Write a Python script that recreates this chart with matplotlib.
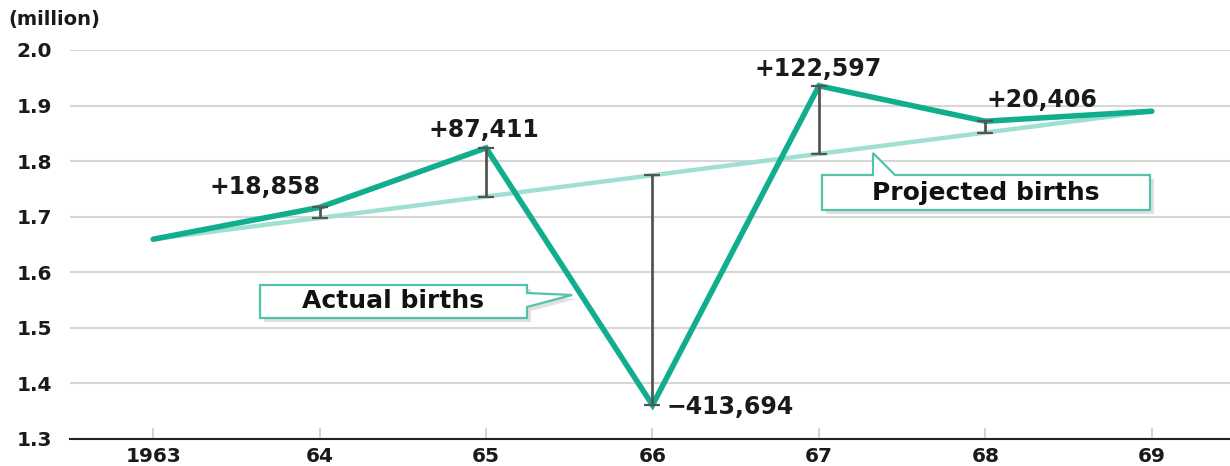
import matplotlib
matplotlib.use("Agg")
import matplotlib.pyplot as plt
from matplotlib.patches import Polygon
import numpy as np

years = [1963, 1964, 1965, 1966, 1967, 1968, 1969]
tick_labels = ["1963", "64", "65", "66", "67", "68", "69"]
actual = [1.6595, 1.7168, 1.8237, 1.3610, 1.9356, 1.8718, 1.8898]
projected = [1.6595, 1.6979, 1.7363, 1.7747, 1.8131, 1.8514, 1.8898]
diff_labels = ["", "+18,858", "+87,411", "\u2212413,694", "+122,597", "+20,406", ""]
label_offsets = [None, (-55, 20), (-2, 18), (14, -2), (-1, 17), (57, 21), None]

W, H = 1230, 466
plt.rcParams['font.family'] = ['DejaVu Sans']
fig = plt.figure(figsize=(W / 100, H / 100), dpi=100)
ax = fig.add_axes([70 / W, 1 - 439 / H, 1 - 70 / W, (439 - 50) / H])

ACT = "#10ae8c"
PROJ = "#9fe0d2"
BAR = "#555555"
GRID = "#d6d6d6"
TXT = "#1a1a1a"

ax.set_xlim(1962.5, 1969.47)
ax.set_ylim(1.3, 2.0)
yt = np.round(np.arange(1.3, 2.01, 0.1), 1)
ax.set_yticks(yt)
ax.set_yticklabels([f"{v:.1f}" for v in yt], fontsize=14.5, fontweight='bold', color=TXT)
ax.set_xticks(years)
ax.set_xticklabels(tick_labels, fontsize=14.5, fontweight='bold', color=TXT)
for v in yt[1:]:
    ax.axhline(v, color=GRID, lw=1.5, zorder=0)
ax.tick_params(axis='y', length=0, pad=13)
ax.tick_params(axis='x', direction='in', length=8, width=1.2, color="#cccccc", pad=6)
for s in ['top', 'right', 'left']:
    ax.spines[s].set_visible(False)
ax.spines['bottom'].set_color("#222222")
ax.spines['bottom'].set_linewidth(1.5)

ax.plot(years, projected, color=PROJ, lw=3.2, solid_capstyle='round', zorder=2)
ax.plot(years, actual, color=ACT, lw=4, solid_capstyle='round', solid_joinstyle='miter', zorder=3)

a = np.array(actual); p = np.array(projected)
mid = (a + p) / 2
err = np.abs(a - p) / 2
idx = [1, 2, 3, 4, 5]
ax.errorbar(np.array(years)[idx], mid[idx], yerr=err[idx], fmt='none', ecolor=BAR,
            elinewidth=2, capsize=5.5, capthick=1.6, zorder=4)

for i in idx:
    dx, dy = label_offsets[i]
    ha = 'left' if i == 3 else 'center'
    ax.annotate(diff_labels[i], (years[i], actual[i]), xytext=(dx, dy),
                textcoords='offset pixels', ha=ha, va='center', fontsize=17,
                fontweight='bold', color=TXT, zorder=6)

fig.text(8 / W, 1 - 20 / H, "(million)", fontsize=14, fontweight='bold', color=TXT,
         ha='left', va='center')


def px(x, y):
    return (x / W, 1 - y / H)


def callout(pts, text, tx, ty):
    sh = Polygon([px(x + 4, y + 4) for x, y in pts], closed=True, transform=fig.transFigure,
                 facecolor="#000000", alpha=0.12, edgecolor='none', zorder=7)
    fig.patches.append(sh)
    poly = Polygon([px(x, y) for x, y in pts], closed=True, transform=fig.transFigure,
                   facecolor="white", edgecolor="#52c2aa", lw=1.6, zorder=8)
    fig.patches.append(poly)
    fig.text(*px(tx, ty), text, fontsize=18, fontweight='bold', color="#111111",
             ha='center', va='center', zorder=9)


# Actual births callout (box with wedge pointing right to the line)
callout([(260, 285), (527, 285), (527, 293), (572, 295), (527, 307), (527, 318), (260, 318)],
        "Actual births", 393, 301)
# Projected births callout (box with wedge pointing up to the line)
callout([(822, 175), (873, 175), (873, 153), (895, 175), (1150, 175), (1150, 210), (822, 210)],
        "Projected births", 986, 193)

fig.savefig("out.png", dpi=100)
